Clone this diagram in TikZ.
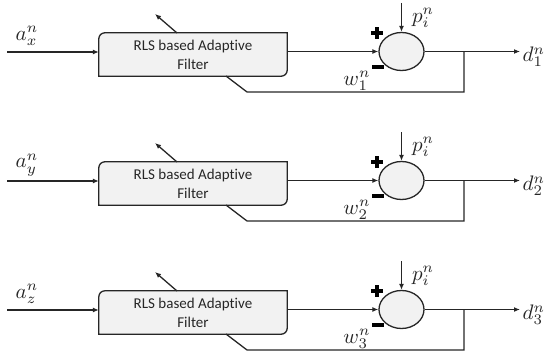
\documentclass[tikz,border=0pt]{standalone}
\usepackage{fontspec}
\usepackage{graphicx}
\setmainfont[RawFeature=-liga]{Carlito}
\usetikzlibrary{arrows.meta,calc,backgrounds,shapes.geometric}
\newcommand{\biglab}[1]{\scalebox{2.1}{$#1$}}
\begin{document}
\begin{tikzpicture}[x=1pt,y=-1pt,
  line/.style={line width=1.3pt,black!85},
  arr/.style={line,-{Latex[length=6pt,width=5pt]}},
  filterbox/.style={rectangle,draw=none,minimum width=188pt,minimum height=43pt,inner sep=0pt,align=center,font=\fontsize{15}{19}\selectfont,text=black!85},
  sumnode/.style={ellipse,draw=black!85,line width=1.3pt,fill=gray!10,minimum width=45pt,minimum height=38pt,inner sep=0pt},
  lab/.style={inner sep=0.5pt,text=black!85},
  signbar/.style={fill=black,draw=none,inner sep=0pt}
]
\useasboundingbox (0,0) rectangle (549,353);
\foreach \i/\s/\dy in {1/x/0,2/y/129,3/z/258}{
  \node[filterbox] (box\i) at (193,54.5+\dy) {RLS based Adaptive\\Filter};
  \begin{pgfonlayer}{background}
    \path[line,fill=gray!10,draw]
      (box\i.south west) -- ($(box\i.north west)+(0,6)$)
      .. controls ($(box\i.north west)+(0,2.7)$) and ($(box\i.north west)+(2.7,0)$) .. ($(box\i.north west)+(6,0)$)
      -- (box\i.north east) -- ($(box\i.south east)+(0,-6)$)
      .. controls ($(box\i.south east)+(0,-2.7)$) and ($(box\i.south east)+(-2.7,0)$) .. ($(box\i.south east)+(-6,0)$)
      -- cycle;
  \end{pgfonlayer}
  \node[sumnode] (sum\i) at (401.5,51.5+\dy) {};
  \coordinate (in\i) at (7,52+\dy);
  \coordinate (ptop\i) at (401.5,3+\dy);
  \coordinate (tip\i) at (155,14+\dy);
  \coordinate (branch\i) at (464,52+\dy);
  \coordinate (fbend\i) at (247,92+\dy);
  \coordinate (fbox\i) at (226,76+\dy);
  \coordinate (tbox\i) at (177,33+\dy);
  \node[lab] (a\i) at (27,36+\dy) {\biglab{a_{\s}^{n}}};
  \node[lab] (p\i) at (423,18+\dy) {\biglab{p_{i}^{n}}};
  \node[lab] (w\i) at (357,81+\dy) {\biglab{w_{\i}^{n}}};
  \node[lab,anchor=west] (d\i) at (522,57+\dy) {\biglab{d_{\i}^{n}}};
  \node[signbar,minimum width=12pt,minimum height=4.5pt] (plush\i) at (377,33+\dy) {};
  \node[signbar,minimum width=4.5pt,minimum height=12pt] (plusv\i) at (377,33+\dy) {};
  \node[signbar,minimum width=12pt,minimum height=4.5pt] (minus\i) at (378,67+\dy) {};
  \draw[arr] (in\i) -- (box\i.west |- in\i);
  \draw[arr] (box\i.east |- sum\i) -- (sum\i.west);
  \draw[arr] (sum\i.east) -- ([xshift=-2pt]d\i.west |- sum\i);
  \draw[arr] (ptop\i) -- (sum\i.north);
  \draw[arr] (tbox\i) -- (tip\i);
  \draw[line] (branch\i) |- (fbend\i) -- (fbox\i);
}
\end{tikzpicture}
\end{document}
